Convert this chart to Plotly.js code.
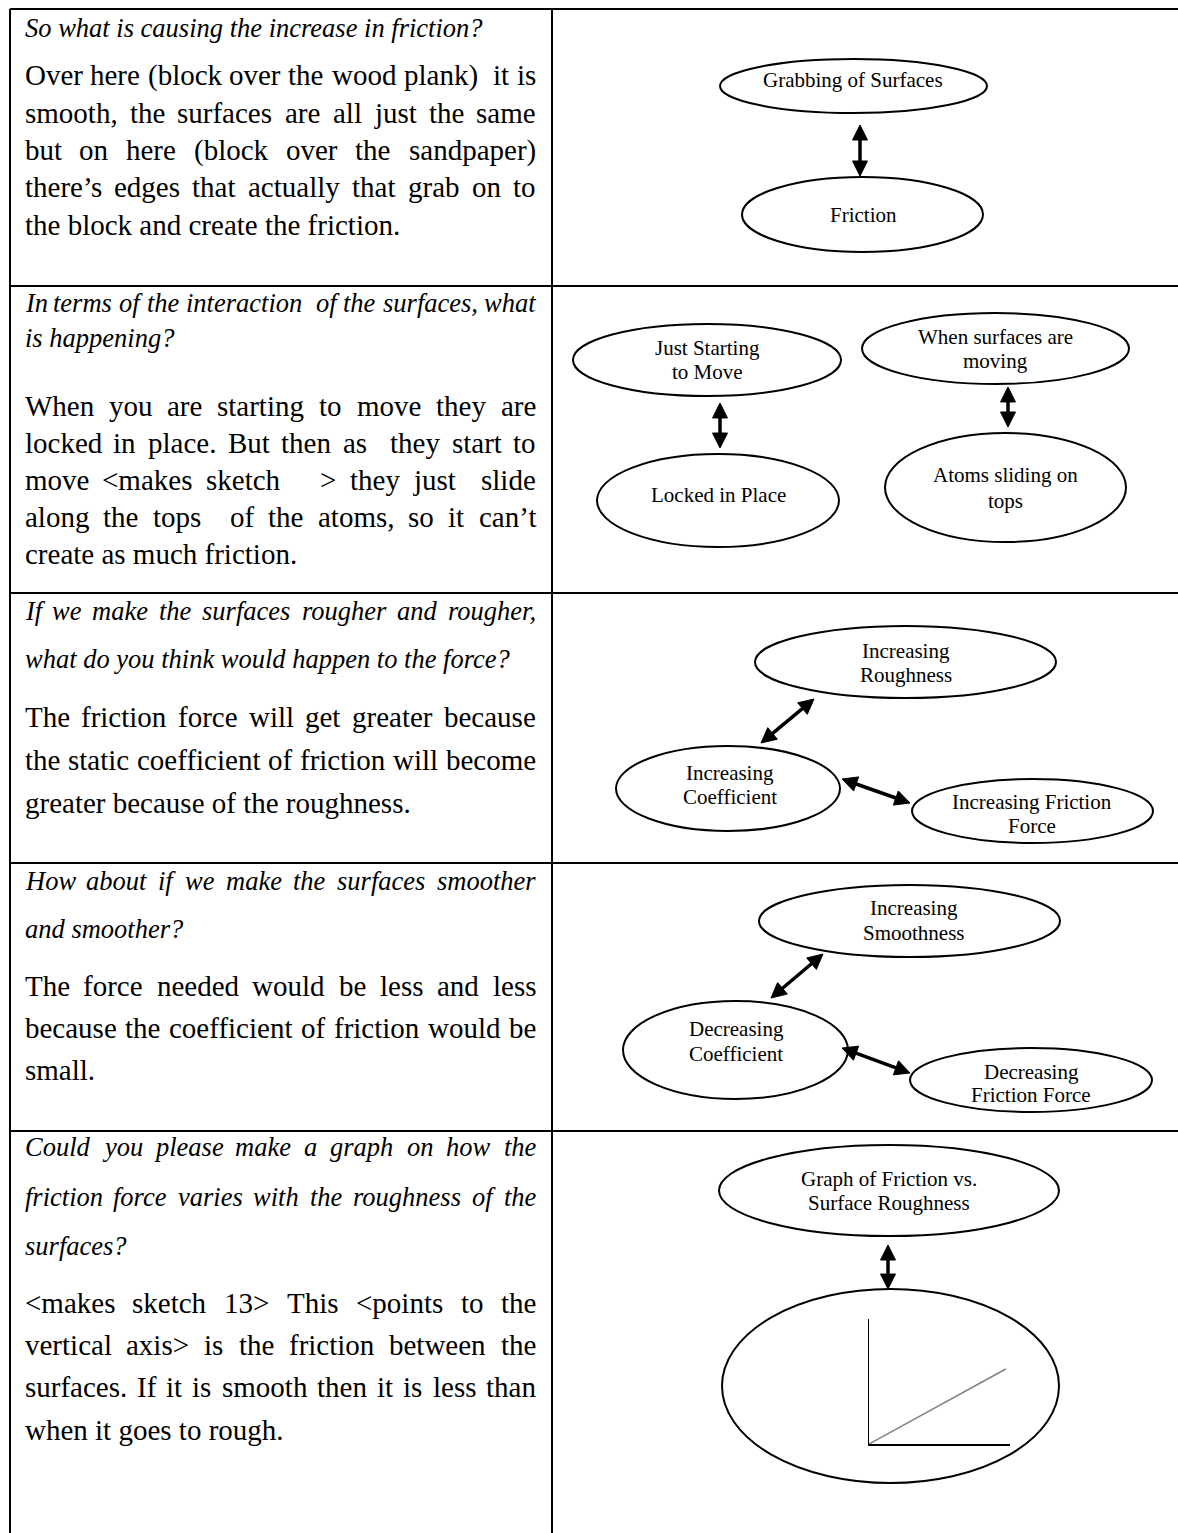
<!DOCTYPE html>
<html>
<head>
<meta charset="utf-8">
<script src="https://cdn.plot.ly/plotly-3.0.1.min.js"></script>
<style>
html,body{margin:0;padding:0;background:#fff;overflow:hidden}
#chart{width:1178px;height:1533px}
</style>
</head>
<body>
<div id="chart"></div>
<script>
// ---------------- DATA (text content) ----------------
const questionLines = [
  ["So what is causing the increase in friction?"],
  ["In terms of the interaction  of the surfaces, what", "is happening?"],
  ["If we make the surfaces rougher and rougher,", "what do you think would happen to the force?"],
  ["How about if we make the surfaces smoother", "and smoother?"],
  ["Could you please make a graph on how the", "friction force varies with the roughness of the", "surfaces?"]
];
const answerLines = [
  ["Over here (block over the wood plank)  it is", "smooth, the surfaces are all just the same", "but on here (block over the sandpaper)", "there\u2019s edges that actually that grab on to", "the block and create the friction."],
  ["When you are starting to move they are", "locked in place. But then as  they start to", "move <makes sketch   > they just  slide", "along the tops  of the atoms, so it can\u2019t", "create as much friction."],
  ["The friction force will get greater because", "the static coefficient of friction will become", "greater because of the roughness."],
  ["The force needed would be less and less", "because the coefficient of friction would be", "small."],
  ["<makes sketch 13> This <points to the", "vertical axis> is the friction between the", "surfaces. If it is smooth then it is less than", "when it goes to rough."]
];
const nodeLabels = [
  ["Grabbing of Surfaces"],
  ["Friction"],
  ["Just Starting", "to Move"],
  ["Locked in Place"],
  ["When surfaces are", "moving"],
  ["Atoms sliding on", "tops"],
  ["Increasing", "Roughness"],
  ["Increasing", "Coefficient"],
  ["Increasing Friction", "Force"],
  ["Increasing", "Smoothness"],
  ["Decreasing", "Coefficient"],
  ["Decreasing", "Friction Force"],
  ["Graph of Friction vs.", "Surface Roughness"],
  []
];
// links between nodes (indices into nodeLabels)
const links = [[0,1],[2,3],[4,5],[6,7],[7,8],[9,10],[10,11],[12,13]];
// the little sketched graph: friction vs roughness
const sketchRoughness = [0, 0.97];
const sketchFriction  = [0, 0.60];

// ---------------- GEOMETRY / STYLE ----------------
const W = 1178, H = 1533;
const TABLE = {left: 10, top: 9, divider: 552, rows: [286, 593, 863, 1131], lw: 2};
const TEXT_L = 24.5, TEXT_R = 536;
const Q_Y = [[28], [303, 338], [611, 659], [881, 929], [1147, 1197, 1246]];
const A_Y = [[75, 112.7, 150, 187.3, 224.7], [406, 443.3, 480, 517.3, 554], [717, 760, 803], [986, 1028, 1070], [1303, 1345, 1387, 1430]];
const FAMILY = '"Liberation Serif", "Times New Roman", serif';
const BODY_SIZE = 29, Q_SIZE = 26.5, NODE_SIZE = 21;
// ellipse boxes [x0,x1,y0,y1], label centre x, label line ys
const NODE_GEOM = [
  {b:[720,987,59,113],   tx:853,  ty:[80]},
  {b:[742,983,177,252],  tx:863,  ty:[215]},
  {b:[573,841,324,396],  tx:707,  ty:[348,372]},
  {b:[597,839,454,547],  tx:718,  ty:[495]},
  {b:[862,1129,313,384], tx:995,  ty:[337,361]},
  {b:[885,1126,433,542], tx:1005, ty:[475,501]},
  {b:[755,1056,626,698], tx:906,  ty:[651,675]},
  {b:[616,840,746,831],  tx:730,  ty:[773,797]},
  {b:[912,1153,779,843], tx:1032, ty:[802,826]},
  {b:[759,1060,885,957], tx:914,  ty:[908,933]},
  {b:[623,848,1001,1099],tx:736,  ty:[1029,1054]},
  {b:[910,1152,1048,1112],tx:1031,ty:[1072,1095]},
  {b:[719,1059,1145,1236],tx:889, ty:[1179,1203]},
  {b:[722,1059,1289,1483],tx:890, ty:[]}
];
const LINK_GEOM = [
  [[860,125],[860,176]],
  [[720,403],[720,448]],
  [[1008,387],[1008,427]],
  [[814,699],[761,743]],
  [[842,779],[910,803]],
  [[823,954],[771,998]],
  [[842,1048],[910,1073]],
  [[888,1245],[888,1289]]
];
const SKETCH_BOX = {x0:869, x1:1010, y0:1319, y1:1444};

// ---------------- BUILD ----------------
const canvas = document.createElement('canvas');
const ctx = canvas.getContext('2d');
function esc(s){return s.replace(/&/g,'&amp;').replace(/</g,'&lt;').replace(/>/g,'&gt;');}
const annotations = [];
const shapes = [];

function addText(x, y, txt, size, italic, xanchor){
  annotations.push({
    x: x, y: y, xref:'x', yref:'y', text: esc(txt), showarrow:false,
    xanchor: xanchor || 'left', yanchor:'middle', borderpad:0, borderwidth:0,
    font:{family:FAMILY, size:size, color:'#000', style: italic ? 'italic' : 'normal'}
  });
}
function layoutLine(txt, y, size, italic, justify){
  if (!justify){ addText(TEXT_L, y, txt, size, italic); return; }
  ctx.font = (italic ? 'italic ' : '') + size + 'px ' + FAMILY;
  const tokens = txt.split(' ');
  const sp = ctx.measureText(' ').width;
  const widths = tokens.map(t => t ? ctx.measureText(t).width : 0);
  const gaps = tokens.length - 1;
  const natural = widths.reduce((a,b)=>a+b,0) + gaps*sp;
  const gap = gaps > 0 ? sp + (TEXT_R - TEXT_L - natural)/gaps : sp;
  let x = TEXT_L;
  tokens.forEach((t,i)=>{
    if (t) addText(x, y, t, size, italic);
    x += widths[i] + gap;
  });
}
function paragraph(lines, ys, size, italic){
  lines.forEach((ln,i)=>layoutLine(ln, ys[i], size, italic, i < lines.length-1));
}
questionLines.forEach((ls,r)=>paragraph(ls, Q_Y[r], Q_SIZE, true));
answerLines.forEach((ls,r)=>paragraph(ls, A_Y[r], BODY_SIZE, false));

// table rules
const lineStyle = {color:'#000', width:TABLE.lw};
shapes.push({type:'line', xref:'x', yref:'y', x0:TABLE.left, x1:W+5, y0:TABLE.top, y1:TABLE.top, line:lineStyle});
TABLE.rows.forEach(y=>shapes.push({type:'line', xref:'x', yref:'y', x0:TABLE.left, x1:W+5, y0:y, y1:y, line:lineStyle}));
[TABLE.left, TABLE.divider].forEach(x=>shapes.push({type:'line', xref:'x', yref:'y', x0:x, x1:x, y0:TABLE.top, y1:H+5, line:lineStyle}));

// nodes
nodeLabels.forEach((lab,i)=>{
  const g = NODE_GEOM[i];
  shapes.push({type:'circle', xref:'x', yref:'y', x0:g.b[0], x1:g.b[1], y0:g.b[2], y1:g.b[3], line:{color:'#000', width:2}, fillcolor:'rgba(0,0,0,0)'});
  lab.forEach((t,k)=>addText(g.tx, g.ty[k], t, NODE_SIZE, false, 'center'));
});

// double-headed arrows
function head(tip, dir, len, half){
  const bx = tip[0]-dir[0]*len, by = tip[1]-dir[1]*len;
  const nx = -dir[1], ny = dir[0];
  return 'M'+tip[0]+','+tip[1]+' L'+(bx+nx*half)+','+(by+ny*half)+' L'+(bx-nx*half)+','+(by-ny*half)+' Z';
}
links.forEach((lk,i)=>{
  const [p0,p1] = LINK_GEOM[i];
  const dx = p1[0]-p0[0], dy = p1[1]-p0[1], L = Math.hypot(dx,dy);
  const d = [dx/L, dy/L];
  const len = 15, half = 7.5;
  shapes.push({type:'line', xref:'x', yref:'y', x0:p0[0]+d[0]*len*0.8, y0:p0[1]+d[1]*len*0.8, x1:p1[0]-d[0]*len*0.8, y1:p1[1]-d[1]*len*0.8, line:{color:'#000', width:3.5}});
  shapes.push({type:'path', xref:'x', yref:'y', path:head(p1,d,len,half), fillcolor:'#000', line:{color:'#000', width:1}});
  shapes.push({type:'path', xref:'x', yref:'y', path:head(p0,[-d[0],-d[1]],len,half), fillcolor:'#000', line:{color:'#000', width:1}});
});

const data = [
  {x:[0], y:[0], mode:'markers', marker:{opacity:0}, hoverinfo:'skip', xaxis:'x', yaxis:'y', showlegend:false},
  {x:sketchRoughness, y:sketchFriction, mode:'lines', line:{color:'#808080', width:1.5}, hoverinfo:'skip', xaxis:'x2', yaxis:'y2', showlegend:false, cliponaxis:false}
];
const hidden = {visible:false, fixedrange:true};
const sketchAxis = {range:[0,1], showline:true, linecolor:'#000', linewidth:1.5, showgrid:false, zeroline:false, showticklabels:false, ticks:'', fixedrange:true};
const layout = {
  width:W, height:H, margin:{l:0,r:0,t:0,b:0,pad:0}, autosize:false,
  paper_bgcolor:'#fff', plot_bgcolor:'rgba(0,0,0,0)', showlegend:false,
  xaxis: Object.assign({range:[0,W], domain:[0,1]}, hidden),
  yaxis: Object.assign({range:[H,0], domain:[0,1]}, hidden),
  xaxis2: Object.assign({domain:[SKETCH_BOX.x0/W, SKETCH_BOX.x1/W], anchor:'y2'}, sketchAxis),
  yaxis2: Object.assign({domain:[1-SKETCH_BOX.y1/H, 1-SKETCH_BOX.y0/H], anchor:'x2'}, sketchAxis),
  shapes: shapes,
  annotations: annotations
};
Plotly.newPlot('chart', data, layout, {displayModeBar:false, staticPlot:true});
</script>
</body>
</html>
